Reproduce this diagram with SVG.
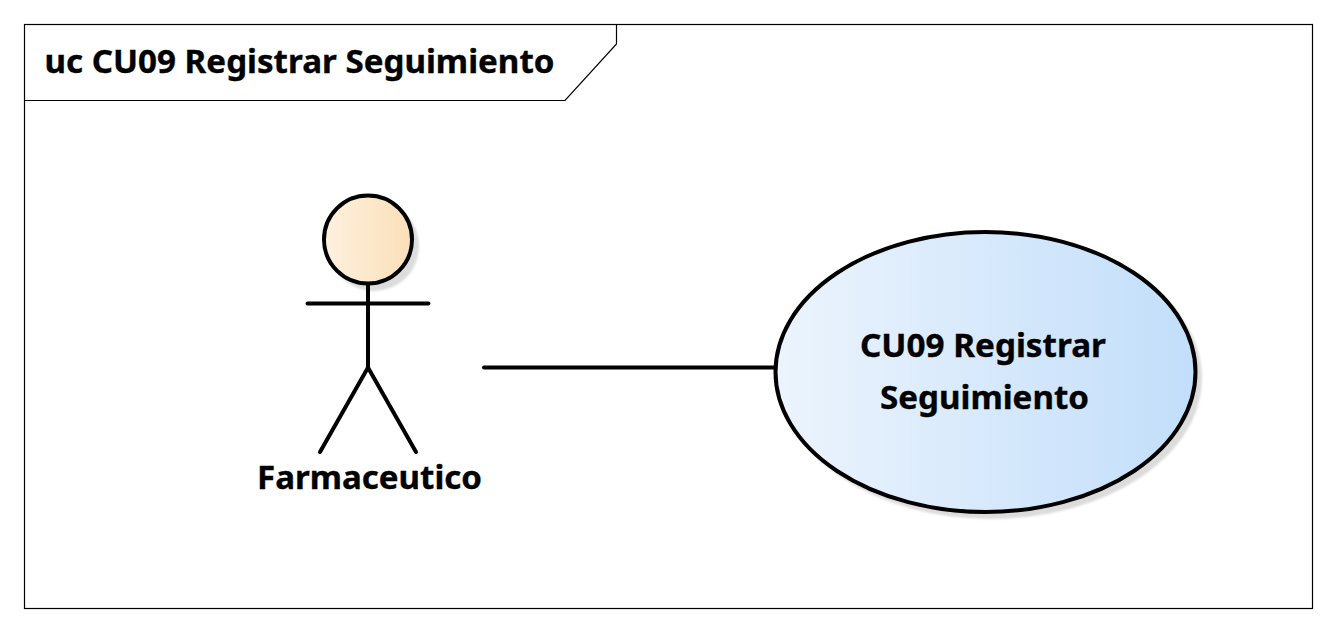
<svg xmlns="http://www.w3.org/2000/svg" width="1336" height="632" viewBox="0 0 1336 632">
<style>
.t{font-family:"Noto Sans","Open Sans","Liberation Sans",sans-serif;font-weight:700;font-size:33px;fill:#000;stroke:#000;stroke-width:.35}
.s{fill:none;stroke:#000;stroke-width:4;stroke-linecap:round}
.f{fill:none;stroke:#000;stroke-width:1.2}
</style>
<defs>
<linearGradient id="ga" x1="0" x2="1" y1="0" y2="0"><stop offset="0" stop-color="#fdf1e0"/><stop offset="1" stop-color="#fbdfb8"/></linearGradient>
<linearGradient id="gu" x1="0" x2="1" y1="0" y2="0"><stop offset="0" stop-color="#ecf4fd"/><stop offset="1" stop-color="#c2defa"/></linearGradient>
<filter id="b" x="-10%" y="-10%" width="120%" height="120%"><feGaussianBlur stdDeviation="0.9"/></filter>
</defs>
<rect width="1336" height="632" fill="#fff"/>
<g id="frame">
<rect class="f" x="24.5" y="24.5" width="1288" height="584"/>
<path class="f" d="M24.5 100.500H565L616.500 44V24.500"/>
<text class="t" x="44.500" y="73" textLength="510" lengthAdjust="spacingAndGlyphs">uc CU09 Registrar Seguimiento</text>
</g>
<g id="connectors">
<line class="s" x1="484" y1="367.500" x2="776" y2="367.500"/>
</g>
<g id="actor-farmaceutico">
<circle cx="374" cy="246" r="45" fill="#dcdcdc" filter="url(#b)"/>
<circle cx="368" cy="239.500" r="44" fill="url(#ga)" stroke="#000" stroke-width="4"/>
<path class="s" d="M368 284V367.500M307.500 303.500H428.500M320 452L368 367.500L416 452"/>
<text class="t" x="257" y="489" textLength="225" lengthAdjust="spacingAndGlyphs">Farmaceutico</text>
</g>
<g id="usecase-cu09">
<ellipse cx="991" cy="378" rx="211" ry="141" fill="#dcdcdc" filter="url(#b)"/>
<ellipse cx="985.500" cy="372" rx="210" ry="140" fill="url(#gu)" stroke="#000" stroke-width="4"/>
<text class="t" x="860" y="357" textLength="246" lengthAdjust="spacingAndGlyphs">CU09 Registrar</text>
<text class="t" x="880" y="409" textLength="209" lengthAdjust="spacingAndGlyphs">Seguimiento</text>
</g>
</svg>
